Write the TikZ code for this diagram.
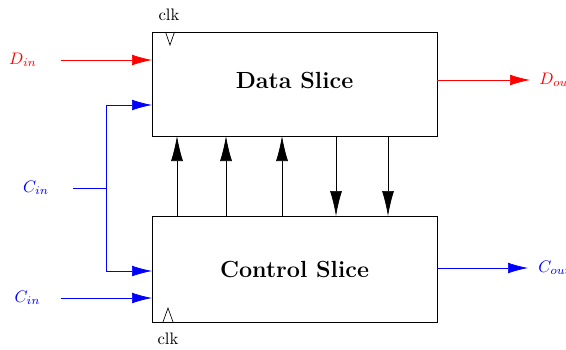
\documentclass[tikz,border=0pt]{standalone}
\usetikzlibrary{calc,arrows.meta}

\tikzset{
	slice/.style={draw, minimum width=171pt, outer sep=0pt},
	title/.style={font=\fontsize{14}{17}\selectfont\bfseries},
	sig/.style={inner sep=0pt},
	dwire/.style={red, -{Latex[length=12pt,width=6.4pt]}},
	cwire/.style={blue, -{Latex[length=12pt,width=6.4pt]}},
	bus/.style={-{Latex[length=15pt,width=7.2pt]}}
}

\begin{document}
\begin{tikzpicture}[x=0.6pt,y=-0.6pt]
				%%%%% START %%%%%
				\def\gap{24}
				\def\clkw{4.5}
				\def\clkh{13}
				
				\useasboundingbox (0,0) rectangle (566,349);
				
				\node[slice, minimum height=62.4pt] (data) at (294.5,84) {};
				\node[title] (datatxt) at ($(data)+(0,-4)$) {Data Slice};
				\node[slice, minimum height=63.6pt] (ctrl) at (294.5,269) {};
				\node[title] (ctrltxt) at (ctrl) {Control Slice};
				
				% clock inputs
				\draw ($(data.north west)+(13.5,0)$) -- ++(\clkw,\clkh) -- ++(\clkw,-\clkh);
				\node (clkd) at ($(data.north west)+(17,-17)$) {clk};
				\draw ($(ctrl.south west)+(11,0)$) -- ++(5,-14) -- ++(5,14);
				\node (clkc) at ($(ctrl.south west)+(16,17)$) {clk};
				
				% data path
				\node[sig, red] (din) at (23,60) {$D_{in}$};
				\draw[dwire] ($(din.east)+(\gap,0)$) -- (din -| data.west);
				\node[sig, red, anchor=west] (dout) at (539,80) {$D_{out}$};
				\draw[dwire] (dout -| data.east) -- ($(dout.west)+(-9,0)$);
				
				% control path
				\node[sig, blue] (cina) at (36,188) {$C_{in}$};
				\coordinate (br) at ($(cina.east)+(57,0)$);
				\draw[blue] ($(cina.east)+(\gap,0)$) -- (br);
				\draw[cwire] (br) |- ($(data.west)+(0,21)$);
				\draw[cwire] (br) |- ($(ctrl.west)+(0,2)$);
				\node[sig, blue] (cinb) at (27.5,298) {$C_{in}$};
				\draw[cwire] ($(cinb.east)+(\gap-4,0)$) -- (cinb -| ctrl.west);
				\node[sig, blue, anchor=west] (cout) at (538,268) {$C_{out}$};
				\draw[cwire] (cout -| ctrl.east) -- ($(cout.west)+(-10,0)$);
				
				% links between the slices
				\foreach \dx in {25,74,130}
					\draw[bus] ($(ctrl.north west)+(\dx,0)$) -- ($(data.south west)+(\dx,0)$);
				\foreach \dx in {184,236}
					\draw[bus] ($(data.south west)+(\dx,0)$) -- ($(ctrl.north west)+(\dx,0)$);
				%%%%% END %%%%%
\end{tikzpicture}
\end{document}
